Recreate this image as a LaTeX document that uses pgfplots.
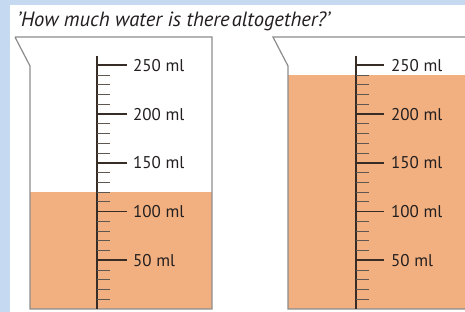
\documentclass[border=0pt]{standalone}
\usepackage{pgfplots}
\pgfplotsset{compat=1.18}
\usepackage{fontspec}
\setmainfont{PT Sans}
\definecolor{bgblue}{RGB}{197,218,240}
\definecolor{water}{RGB}{242,176,128}
\definecolor{wall}{RGB}{140,140,140}
\definecolor{tickc}{RGB}{55,45,38}
\definecolor{txt}{RGB}{35,31,32}
\begin{document}
\begin{tikzpicture}
\begin{axis}[scale only axis, width=465pt, height=312pt,
  xmin=0, xmax=465, ymin=-3, ymax=317, hide axis, clip=true]
% background
\addplot[fill=bgblue, draw=none] coordinates {(0,-3)(465,-3)(465,317)(0,317)} --cycle;
\addplot[fill=white, draw=none] coordinates {(10,-3)(465,-3)(465,311.9)(10,311.9)} --cycle;
% water (ml)
\addplot[fill=water, draw=none] coordinates {(30,0)(212,0)(212,120)(30,120)} --cycle;
\addplot[fill=water, draw=none] coordinates {(288,0)(470,0)(470,240)(288,240)} --cycle;
% beakers
\addplot[draw=wall, line width=1.2pt] coordinates {(15,279)(30,249.3)(30,0)(212,0)(212,279)(15,279)};
\addplot[draw=wall, line width=1.2pt] coordinates {(470,279)(273,279)(288,249.3)(288,0)(470,0)};
% scales
\addplot[draw=tickc, line width=1.6pt] coordinates {(97,260)(97,0)};
\addplot[draw=tickc, line width=1.6pt] coordinates {(355.7,260)(355.7,0)};
\pgfplotsinvokeforeach{50,100,150,200,250}{
  \addplot[draw=tickc, line width=1.7pt] coordinates {(97,#1)(127,#1)};
  \addplot[draw=tickc, line width=1.7pt] coordinates {(355.7,#1)(384,#1)};
}
\pgfplotsinvokeforeach{10,20,30,40,60,70,80,90,110,120,130,140,160,170,180,190,210,220,230,240}{
  \addplot[draw=tickc!80, line width=1.1pt] coordinates {(97,#1)(110,#1)};
  \addplot[draw=tickc!80, line width=1.1pt] coordinates {(355.7,#1)(369,#1)};
}
\pgfplotsinvokeforeach{50,100,150,200,250}{
  \node[anchor=west, font=\fontsize{17}{17}\selectfont, text=txt, inner sep=0pt] at (axis cs:133,#1) {#1 ml};
  \node[anchor=west, font=\fontsize{17}{17}\selectfont, text=txt, inner sep=0pt] at (axis cs:391,#1) {#1 ml};
}
\node[anchor=base west, font=\fontsize{20.6}{20.6}\itshape, text=txt, inner sep=0pt] at (axis cs:17,290.3) {'How much water is there\hspace{2pt}altogether?'};
\end{axis}
\end{tikzpicture}
\end{document}
